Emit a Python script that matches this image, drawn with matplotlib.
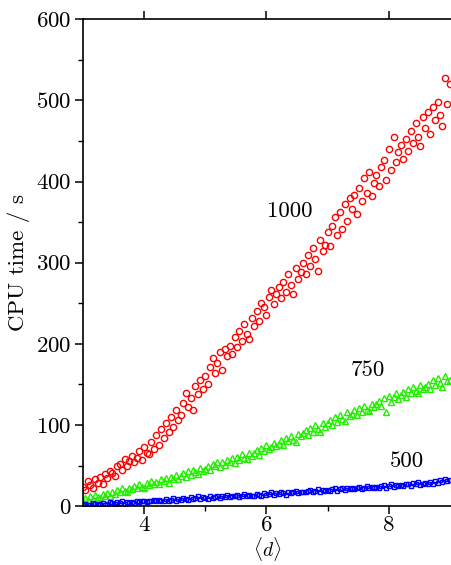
import matplotlib
matplotlib.use('Agg')
import matplotlib.pyplot as plt
import matplotlib.ticker as ticker

# --- dados ---
d_values = [3.00, 3.04, 3.08, 3.12, 3.16, 3.20, 3.24, 3.28, 3.32, 3.36,
            3.40, 3.44, 3.48, 3.52, 3.56, 3.60, 3.64, 3.68, 3.72, 3.76,
            3.80, 3.84, 3.88, 3.92, 3.96, 4.00, 4.04, 4.08, 4.12, 4.16,
            4.20, 4.24, 4.28, 4.32, 4.36, 4.40, 4.44, 4.48, 4.52, 4.56,
            4.60, 4.64, 4.68, 4.72, 4.76, 4.80, 4.84, 4.88, 4.92, 4.96,
            5.00, 5.04, 5.08, 5.12, 5.16, 5.20, 5.24, 5.28, 5.32, 5.36,
            5.40, 5.44, 5.48, 5.52, 5.56, 5.60, 5.64, 5.68, 5.72, 5.76,
            5.80, 5.84, 5.88, 5.92, 5.96, 6.00, 6.04, 6.08, 6.12, 6.16,
            6.20, 6.24, 6.28, 6.32, 6.36, 6.40, 6.44, 6.48, 6.52, 6.56,
            6.60, 6.64, 6.68, 6.72, 6.76, 6.80, 6.84, 6.88, 6.92, 6.96,
            7.00, 7.04, 7.08, 7.12, 7.16, 7.20, 7.24, 7.28, 7.32, 7.36,
            7.40, 7.44, 7.48, 7.52, 7.56, 7.60, 7.64, 7.68, 7.72, 7.76,
            7.80, 7.84, 7.88, 7.92, 7.96, 8.00, 8.04, 8.08, 8.12, 8.16,
            8.20, 8.24, 8.28, 8.32, 8.36, 8.40, 8.44, 8.48, 8.52, 8.56,
            8.60, 8.64, 8.68, 8.72, 8.76, 8.80, 8.84, 8.88, 8.92, 8.96,
            9.00]

cpu_1000 = [24, 20, 31, 26, 22, 33, 29, 36, 27, 40,
            35, 44, 41, 37, 49, 52, 45, 58, 50, 56,
            62, 54, 59, 68, 57, 73, 66, 64, 79, 71,
            88, 76, 95, 84, 102, 92, 110, 98, 118, 106,
            113, 127, 140, 122, 133, 118, 148, 138, 156, 145,
            160, 151, 172, 183, 164, 176, 190, 168, 194, 185,
            198, 188, 208, 196, 216, 203, 224, 212, 206, 232,
            222, 240, 228, 250, 245, 236, 258, 266, 249, 262,
            270, 256, 276, 264, 286, 272, 262, 294, 280, 288,
            300, 286, 310, 296, 318, 304, 290, 328, 314, 322,
            338, 320, 345, 356, 334, 362, 342, 372, 352, 380,
            366, 384, 360, 392, 376, 404, 386, 412, 382, 398,
            408, 394, 418, 426, 402, 440, 414, 455, 424, 436,
            445, 428, 452, 438, 462, 448, 472, 455, 444, 480,
            466, 486, 458, 492, 476, 498, 482, 468, 528, 495,
            520]

cpu_750 = [6, 10, 8, 12, 9, 14, 11, 10, 15, 13,
           16, 13, 18, 15, 20, 17, 22, 19, 18, 23,
           21, 25, 22, 27, 24, 23, 29, 26, 31, 28,
           30, 27, 33, 31, 35, 29, 36, 34, 38, 33,
           37, 41, 36, 43, 39, 45, 42, 40, 47, 44,
           46, 50, 45, 52, 49, 55, 48, 54, 51, 57,
           55, 59, 53, 61, 57, 64, 60, 58, 66, 62,
           65, 69, 63, 72, 68, 75, 70, 73, 78, 74,
           77, 81, 75, 84, 80, 87, 82, 79, 89, 86,
           90, 94, 88, 97, 92, 100, 95, 91, 103, 98,
           103, 106, 100, 110, 104, 113, 108, 105, 116, 111,
           114, 118, 112, 121, 116, 124, 119, 117, 126, 122,
           126, 130, 124, 133, 116, 136, 129, 134, 139, 132,
           137, 141, 135, 144, 140, 147, 142, 139, 149, 145,
           147, 151, 144, 155, 149, 158, 152, 147, 160, 154,
           156]

cpu_500 = [1, 3, 2, 2, 4, 3, 1, 3, 4, 2,
           3, 5, 4, 3, 5, 4, 6, 3, 5, 4,
           5, 4, 6, 5, 7, 6, 5, 7, 6, 8,
           6, 8, 7, 6, 9, 7, 8, 10, 7, 9,
           8, 10, 9, 8, 11, 9, 10, 12, 9, 11,
           10, 9, 12, 10, 11, 13, 10, 12, 11, 14,
           11, 13, 12, 14, 11, 13, 15, 12, 14, 13,
           13, 15, 14, 12, 16, 14, 15, 17, 14, 16,
           15, 17, 16, 14, 18, 16, 17, 19, 16, 18,
           18, 17, 19, 20, 17, 19, 21, 18, 20, 19,
           20, 19, 21, 22, 19, 21, 23, 20, 22, 21,
           22, 21, 23, 24, 21, 23, 25, 22, 24, 23,
           24, 23, 25, 26, 23, 25, 27, 24, 26, 25,
           26, 25, 28, 27, 25, 29, 27, 30, 26, 28,
           29, 27, 30, 28, 31, 29, 32, 30, 33, 31,
           32]

series_labels = ['1000', '750', '500']
label_positions = [(6.38, 364), (7.66, 167), (8.30, 56)]


def main():
    plt.rcParams.update({
        'font.family': 'serif',
        'font.serif': ['cmr10', 'DejaVu Serif'],
        'mathtext.fontset': 'cm',
        'axes.formatter.use_mathtext': True,
        'font.size': 16.5,
    })

    fig = plt.figure(figsize=(4.51, 5.65), dpi=100)
    ax = fig.add_axes([0.184, 0.104, 0.816, 0.862])

    ax.plot(d_values, cpu_1000, linestyle='none', marker='o', markersize=4.5,
            markerfacecolor='none', markeredgecolor='#ff0000', markeredgewidth=1.0)
    ax.plot(d_values, cpu_750, linestyle='none', marker='^', markersize=4.3,
            markerfacecolor='none', markeredgecolor='#22ee00', markeredgewidth=1.0)
    ax.plot(d_values, cpu_500, linestyle='none', marker='s', markersize=3.3,
            markerfacecolor='none', markeredgecolor='#0000ff', markeredgewidth=1.0)

    for text, (x, y) in zip(series_labels, label_positions):
        ax.text(x, y, text, ha='center', va='center', fontsize=16.5)

    ax.set_xlim(3, 9.02)
    ax.set_ylim(0, 600)

    ax.xaxis.set_major_locator(ticker.FixedLocator([4, 6, 8]))
    ax.xaxis.set_minor_locator(ticker.FixedLocator([5, 7]))
    ax.yaxis.set_major_locator(ticker.MultipleLocator(100))
    ax.yaxis.set_minor_locator(ticker.MultipleLocator(50))

    ax.tick_params(which='major', direction='out', length=5.5, width=1.1,
                   top=True, labeltop=False, pad=3)
    ax.tick_params(axis='x', which='major', pad=1.5)
    ax.tick_params(which='minor', direction='out', length=3.5, width=1.0)
    ax.tick_params(axis='x', which='minor', top=False)

    for side in ['left', 'bottom', 'top']:
        ax.spines[side].set_linewidth(1.2)
    ax.spines['right'].set_visible(False)

    ax.set_ylabel('CPU time / s', labelpad=4)
    ax.set_xlabel(r'$\langle d \rangle$', fontsize=14)
    # rótulo x logo abaixo do "6", encostado na borda inferior
    ax.xaxis.set_label_coords(0.5, -0.06)

    fig.savefig('out.png', dpi=100)


if __name__ == '__main__':
    main()
